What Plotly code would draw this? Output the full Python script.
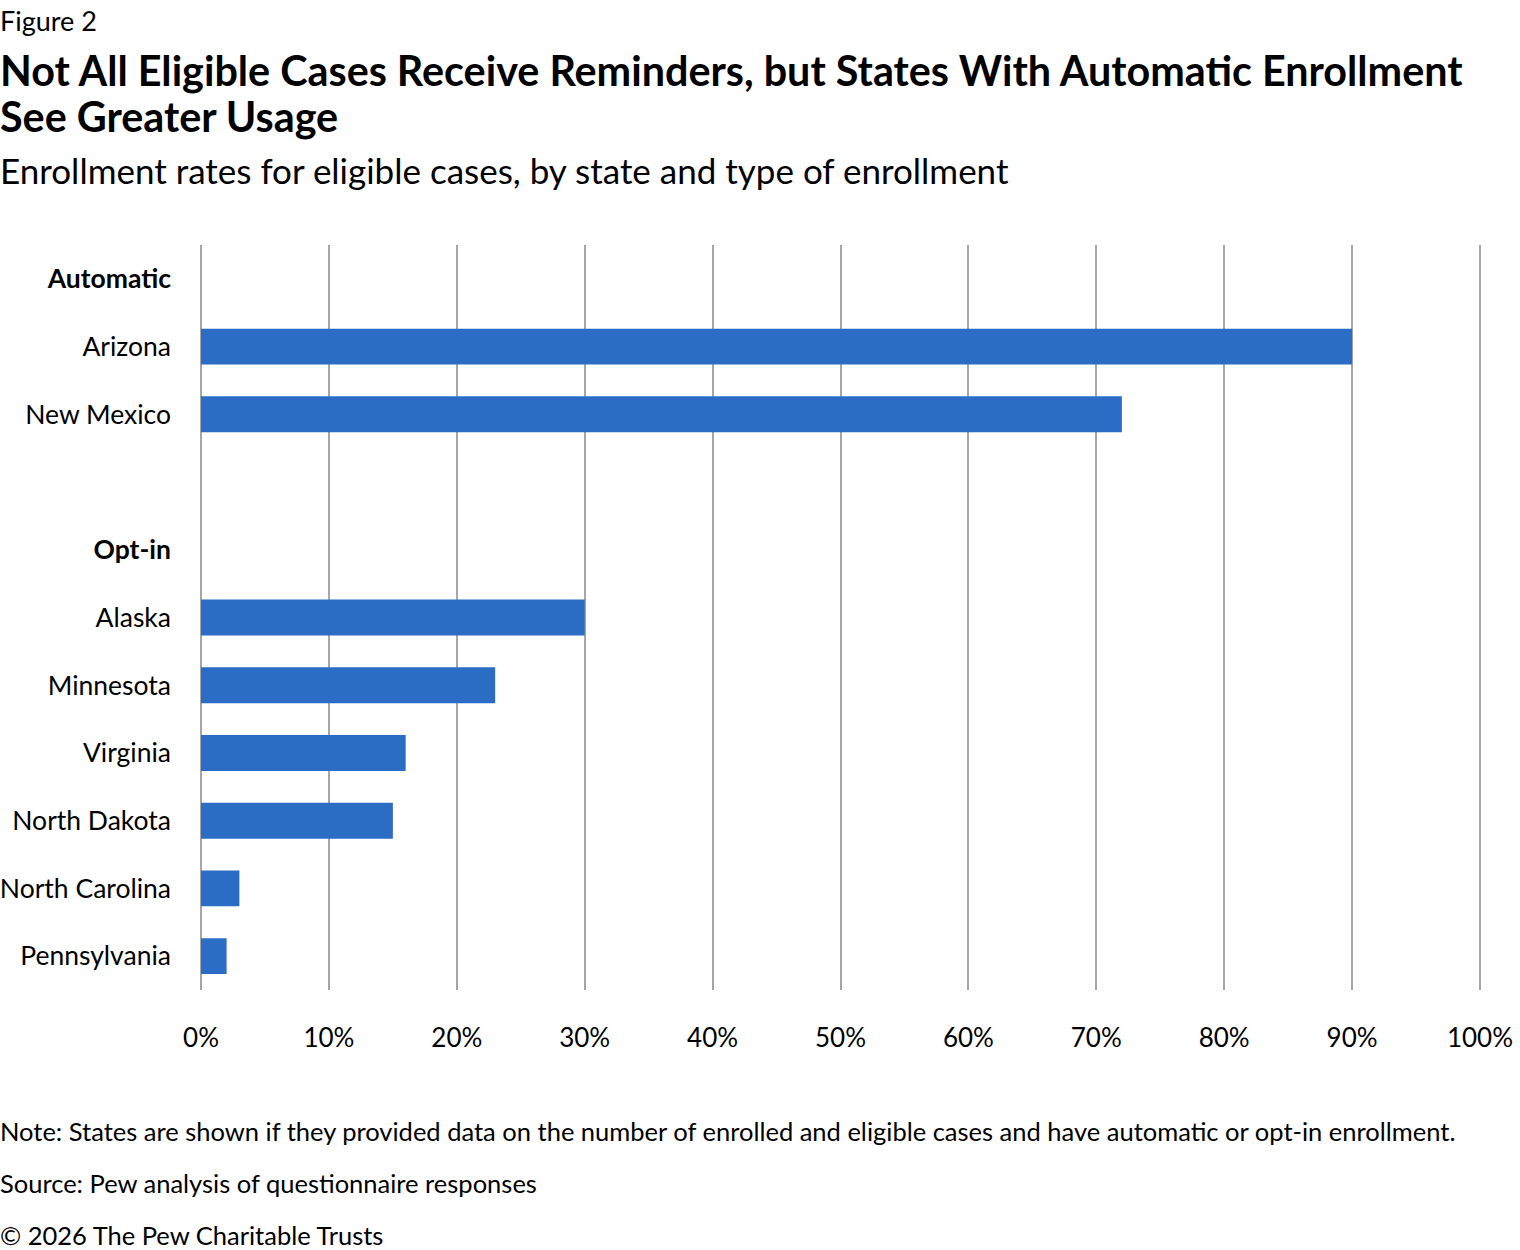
import plotly.graph_objects as go

categories = ["<b>Automatic</b>", "Arizona", "New Mexico", " ", "<b>Opt-in</b>",
              "Alaska", "Minnesota", "Virginia", "North Dakota", "North Carolina", "Pennsylvania"]
values = [None, 90, 72, None, None, 30, 23, 16, 15, 3, 2]
tick_vals = [0, 10, 20, 30, 40, 50, 60, 70, 80, 90, 100]
tick_labels = ["0%", "10%", "20%", "30%", "40%", "50%", "60%", "70%", "80%", "90%", "100%"]

W, H = 1520, 1250
L, R, T, B = 200, 39, 245, 260
pw, ph = W - L - R, H - T - B

def px(x):
    return (x - L) / pw

def py(y):
    return (H - B - y) / ph

fig = go.Figure(go.Bar(
    x=values, y=categories, orientation="h",
    marker=dict(color="#2b6cc4", line=dict(width=0)),
    width=0.53, hoverinfo="x+y",
))

font = "Lato, 'Open Sans', sans-serif"
anns = [
    dict(text="Figure 2", x=px(-2), y=py(20), size=27),
    dict(text="<b>Not All Eligible Cases Receive Reminders, but States With Automatic Enrollment</b>", x=px(-2), y=py(70), size=41.3),
    dict(text="<b>See Greater Usage</b>", x=px(-2), y=py(116), size=41.3),
    dict(text="Enrollment rates for eligible cases, by state and type of enrollment", x=px(-2), y=py(170), size=35),
    dict(text="Note: States are shown if they provided data on the number of enrolled and eligible cases and have automatic or opt-in enrollment.", x=px(-2), y=py(1131), size=25.5),
    dict(text="Source: Pew analysis of questionnaire responses", x=px(-2), y=py(1183), size=25.5),
    dict(text="© 2026 The Pew Charitable Trusts", x=px(-2), y=py(1235), size=25.5),
]
annotations = []
for a in anns:
    annotations.append(dict(
        text=a["text"], x=a["x"], y=a["y"], xref="paper", yref="paper",
        xanchor="left", yanchor="middle", showarrow=False,
        font=dict(family=font, size=a["size"], color="#000000"),
    ))

fig.update_layout(
    width=W, height=H,
    margin=dict(l=L, r=R, t=T, b=B, autoexpand=False),
    paper_bgcolor="white", plot_bgcolor="white",
    showlegend=False,
    annotations=annotations,
    font=dict(family=font, color="#000000"),
)
fig.update_xaxes(
    range=[-0.08, 100.08], tickvals=tick_vals, ticktext=tick_labels,
    showgrid=True, gridcolor="#a6a6a6", gridwidth=2,
    zeroline=True, zerolinecolor="#a6a6a6", zerolinewidth=2,
    showline=False, ticks="",
    tickfont=dict(family=font, size=26, color="#000000"),
    ticklabelstandoff=30,
)
fig.update_yaxes(
    type="category", categoryorder="array", categoryarray=categories,
    autorange="reversed", showgrid=False, zeroline=False, showline=False, ticks="",
    tickfont=dict(family=font, size=26.5, color="#000000"),
    ticklabelstandoff=28,
)

fig.write_html("out.html", config={"displayModeBar": False},
               post_script="document.body.style.margin='0';document.body.style.overflow='hidden';")
